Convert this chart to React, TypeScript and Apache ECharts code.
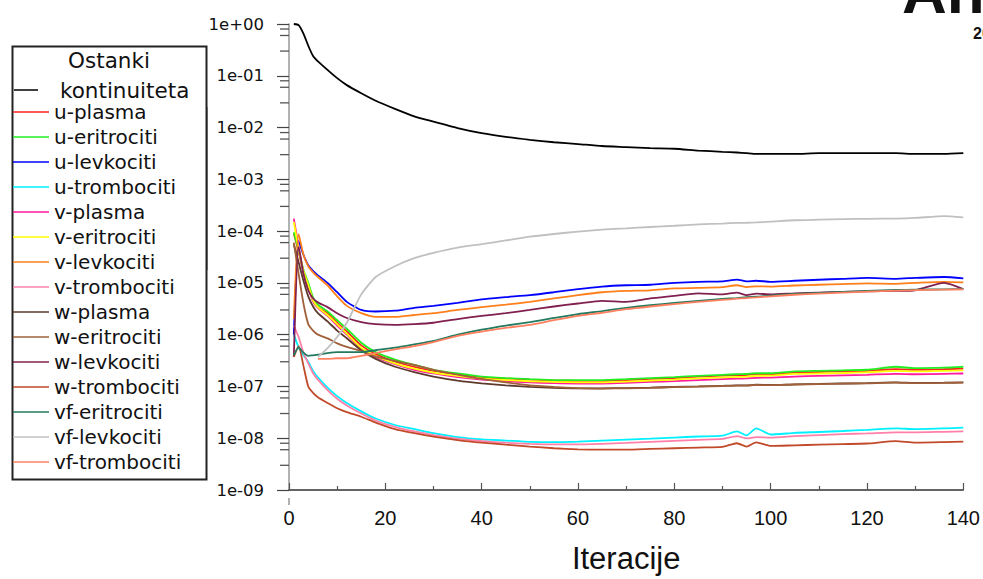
import React, { useEffect, useRef } from "react";
import * as echarts from "echarts";

const ITER = [1, 2, 3, 4, 5, 6, 8, 10, 12, 15, 18, 22, 26, 30, 35, 40, 45, 50, 55, 60, 65, 70, 75, 80, 85, 90, 93, 95, 97, 100, 105, 110, 115, 120, 126, 130, 136, 140];

const KONT = [1.0, 0.95, 0.65, 0.38, 0.24, 0.19, 0.13, 0.09, 0.066, 0.046, 0.033, 0.023, 0.0165, 0.013, 0.0098, 0.0078, 0.0066, 0.0058, 0.0052, 0.0048, 0.0044, 0.0042, 0.004, 0.0039, 0.0036, 0.0034, 0.0033, 0.0032, 0.0031, 0.0031, 0.0031, 0.0032, 0.0032, 0.0032, 0.0032, 0.0031, 0.0031, 0.0032];
const U_PLASMA = [9e-5, 4e-5, 1.6e-5, 9e-6, 4.5e-6, 3.4e-6, 2.6e-6, 1.7e-6, 1.15e-6, 6.2e-7, 4.2e-7, 3e-7, 2.4e-7, 2e-7, 1.7e-7, 1.5e-7, 1.42e-7, 1.35e-7, 1.3e-7, 1.28e-7, 1.28e-7, 1.32e-7, 1.4e-7, 1.45e-7, 1.55e-7, 1.62e-7, 1.65e-7, 1.66e-7, 1.75e-7, 1.72e-7, 1.85e-7, 1.9e-7, 1.95e-7, 2.0e-7, 2.15e-7, 2.1e-7, 2.15e-7, 2.2e-7];
const U_ERITRO = [9.5e-5, 4.2e-5, 1.8e-5, 1.0e-5, 5.2e-6, 3.8e-6, 2.8e-6, 1.9e-6, 1.3e-6, 7e-7, 4.6e-7, 3.3e-7, 2.6e-7, 2.1e-7, 1.78e-7, 1.55e-7, 1.45e-7, 1.38e-7, 1.33e-7, 1.32e-7, 1.33e-7, 1.38e-7, 1.45e-7, 1.52e-7, 1.6e-7, 1.68e-7, 1.72e-7, 1.74e-7, 1.8e-7, 1.8e-7, 1.95e-7, 2.0e-7, 2.05e-7, 2.1e-7, 2.4e-7, 2.25e-7, 2.3e-7, 2.4e-7];
const U_LEVKO = [1e-6, 6.4e-5, 3.5e-5, 2.2e-5, 1.7e-5, 1.4e-5, 1.0e-5, 6.6e-6, 4.3e-6, 3.0e-6, 2.8e-6, 2.9e-6, 3.3e-6, 3.6e-6, 4.1e-6, 4.8e-6, 5.3e-6, 5.8e-6, 6.6e-6, 7.6e-6, 8.5e-6, 9e-6, 9.2e-6, 1.0e-5, 1.05e-5, 1.07e-5, 1.16e-5, 1.07e-5, 1.1e-5, 1.05e-5, 1.1e-5, 1.15e-5, 1.2e-5, 1.25e-5, 1.2e-5, 1.25e-5, 1.3e-5, 1.22e-5];
const U_TROMBO = [1e-6, 5.7e-7, 4e-7, 3e-7, 2e-7, 1.5e-7, 9.5e-8, 6.5e-8, 4.8e-8, 3.3e-8, 2.4e-8, 1.8e-8, 1.5e-8, 1.25e-8, 1.05e-8, 9.5e-9, 9e-9, 8.5e-9, 8.4e-9, 8.6e-9, 9e-9, 9.4e-9, 9.8e-9, 1.03e-8, 1.08e-8, 1.12e-8, 1.35e-8, 1.14e-8, 1.55e-8, 1.18e-8, 1.27e-8, 1.32e-8, 1.38e-8, 1.45e-8, 1.55e-8, 1.5e-8, 1.55e-8, 1.6e-8];
const V_PLASMA = [1.75e-4, 5e-5, 1.6e-5, 8.5e-6, 4.4e-6, 3.3e-6, 2.3e-6, 1.5e-6, 1.0e-6, 5.4e-7, 3.7e-7, 2.7e-7, 2.1e-7, 1.78e-7, 1.52e-7, 1.36e-7, 1.27e-7, 1.2e-7, 1.16e-7, 1.14e-7, 1.14e-7, 1.17e-7, 1.22e-7, 1.27e-7, 1.33e-7, 1.38e-7, 1.41e-7, 1.43e-7, 1.47e-7, 1.48e-7, 1.55e-7, 1.6e-7, 1.64e-7, 1.68e-7, 1.75e-7, 1.72e-7, 1.75e-7, 1.78e-7];
const V_ERITRO = [1.5e-4, 4.5e-5, 1.7e-5, 9e-6, 4.6e-6, 3.4e-6, 2.4e-6, 1.6e-6, 1.05e-6, 5.6e-7, 3.9e-7, 2.8e-7, 2.2e-7, 1.85e-7, 1.6e-7, 1.42e-7, 1.33e-7, 1.26e-7, 1.22e-7, 1.2e-7, 1.2e-7, 1.24e-7, 1.3e-7, 1.36e-7, 1.43e-7, 1.5e-7, 1.53e-7, 1.55e-7, 1.6e-7, 1.62e-7, 1.75e-7, 1.78e-7, 1.82e-7, 1.88e-7, 2.0e-7, 1.95e-7, 2.0e-7, 2.05e-7];
const V_LEVKO = [2e-6, 8.7e-5, 3.5e-5, 2.1e-5, 1.6e-5, 1.3e-5, 9e-6, 5.5e-6, 3.6e-6, 2.6e-6, 2.2e-6, 2.2e-6, 2.4e-6, 2.6e-6, 3.0e-6, 3.4e-6, 3.8e-6, 4.3e-6, 5e-6, 5.8e-6, 6.6e-6, 7e-6, 7.2e-6, 7.8e-6, 8e-6, 8.3e-6, 9e-6, 8.3e-6, 8.6e-6, 8.5e-6, 8.9e-6, 9.2e-6, 9.5e-6, 9.8e-6, 9.6e-6, 1.0e-5, 1.05e-5, 1.02e-5];
const V_TROMBO = [1.5e-6, 9e-7, 4.5e-7, 2.8e-7, 1.8e-7, 1.35e-7, 8.5e-8, 5.8e-8, 4.3e-8, 3e-8, 2.2e-8, 1.65e-8, 1.35e-8, 1.15e-8, 9.8e-9, 8.8e-9, 8.2e-9, 7.8e-9, 7.6e-9, 7.6e-9, 7.8e-9, 8.1e-9, 8.5e-9, 8.9e-9, 9.3e-9, 9.7e-9, 1.1e-8, 9.9e-9, 1.05e-8, 1.03e-8, 1.1e-8, 1.15e-8, 1.2e-8, 1.24e-8, 1.3e-8, 1.3e-8, 1.33e-8, 1.35e-8];
const W_PLASMA = [5.5e-5, 2.5e-5, 1.1e-5, 5.5e-6, 3.5e-6, 2.6e-6, 1.8e-6, 1.2e-6, 8.5e-7, 5e-7, 3.4e-7, 2.4e-7, 1.9e-7, 1.55e-7, 1.3e-7, 1.15e-7, 1.05e-7, 9.8e-8, 9.4e-8, 9.2e-8, 9.2e-8, 9.3e-8, 9.5e-8, 9.8e-8, 1.0e-7, 1.03e-7, 1.05e-7, 1.05e-7, 1.08e-7, 1.07e-7, 1.1e-7, 1.12e-7, 1.14e-7, 1.16e-7, 1.2e-7, 1.17e-7, 1.18e-7, 1.2e-7];
const W_ERITRO = [6e-5, 1.5e-5, 4e-6, 1.6e-6, 1.2e-6, 1e-6, 8.5e-7, 6.8e-7, 5.8e-7, 4.8e-7, 3.8e-7, 3.1e-7, 2.6e-7, 2.1e-7, 1.7e-7, 1.4e-7, 1.2e-7, 1.05e-7, 9.8e-8, 9.3e-8, 9.1e-8, 9.2e-8, 9.4e-8, 9.7e-8, 9.9e-8, 1.02e-7, 1.04e-7, 1.04e-7, 1.07e-7, 1.06e-7, 1.09e-7, 1.11e-7, 1.13e-7, 1.15e-7, 1.19e-7, 1.16e-7, 1.17e-7, 1.19e-7];
const W_LEVKO = [3.7e-7, 5e-5, 1.5e-5, 7.2e-6, 5e-6, 4.2e-6, 3.4e-6, 2.6e-6, 2.1e-6, 1.75e-6, 1.6e-6, 1.55e-6, 1.6e-6, 1.7e-6, 2.0e-6, 2.3e-6, 2.6e-6, 3.0e-6, 3.5e-6, 4.0e-6, 4.5e-6, 4.3e-6, 5e-6, 5.6e-6, 6.3e-6, 6.0e-6, 6.5e-6, 5.8e-6, 6.2e-6, 6.0e-6, 6.3e-6, 6.5e-6, 6.7e-6, 6.9e-6, 7.0e-6, 7.2e-6, 1.0e-5, 7.6e-6];
const W_TROMBO = [3.7e-7, 6e-7, 2.5e-7, 1.0e-7, 7.5e-8, 6.2e-8, 4.8e-8, 3.8e-8, 3.2e-8, 2.6e-8, 2e-8, 1.5e-8, 1.25e-8, 1.07e-8, 9.2e-9, 8.2e-9, 7.5e-9, 6.9e-9, 6.4e-9, 6.1e-9, 6.0e-9, 6.0e-9, 6.2e-9, 6.4e-9, 6.6e-9, 6.8e-9, 8e-9, 6.9e-9, 8.3e-9, 7.1e-9, 7.3e-9, 7.5e-9, 7.7e-9, 7.9e-9, 8.8e-9, 8.2e-9, 8.4e-9, 8.6e-9];
const VF_ERITRO = [4e-7, 5.7e-7, 4.5e-7, 3.9e-7, 4.0e-7, 4.1e-7, 4.4e-7, 4.6e-7, 4.6e-7, 4.6e-7, 5e-7, 5.6e-7, 6.5e-7, 7.6e-7, 1.0e-6, 1.25e-6, 1.5e-6, 1.75e-6, 2.1e-6, 2.5e-6, 2.85e-6, 3.3e-6, 3.7e-6, 4.1e-6, 4.5e-6, 4.9e-6, 5.1e-6, 5.3e-6, 5.4e-6, 5.7e-6, 6.1e-6, 6.4e-6, 6.7e-6, 7.0e-6, 7.3e-6, 7.4e-6, 7.5e-6, 7.6e-6];
const VF_LEVKO = [null, null, null, null, null, 3.7e-7, 5.5e-7, 9e-7, 1.7e-6, 6e-6, 1.3e-5, 2.1e-5, 3.0e-5, 3.8e-5, 4.8e-5, 5.6e-5, 6.6e-5, 7.8e-5, 8.8e-5, 9.8e-5, 1.07e-4, 1.13e-4, 1.2e-4, 1.27e-4, 1.35e-4, 1.4e-4, 1.44e-4, 1.45e-4, 1.47e-4, 1.52e-4, 1.62e-4, 1.66e-4, 1.7e-4, 1.73e-4, 1.75e-4, 1.8e-4, 1.95e-4, 1.85e-4];
const VF_TROMBO = [null, null, null, null, null, 3.4e-7, 3.4e-7, 3.5e-7, 3.5e-7, 3.9e-7, 4.4e-7, 5.2e-7, 6.0e-7, 7.2e-7, 9.5e-7, 1.15e-6, 1.35e-6, 1.55e-6, 1.9e-6, 2.3e-6, 2.65e-6, 3.1e-6, 3.5e-6, 3.9e-6, 4.3e-6, 4.7e-6, 4.95e-6, 5.1e-6, 5.25e-6, 5.5e-6, 5.9e-6, 6.2e-6, 6.5e-6, 6.8e-6, 7.1e-6, 7.25e-6, 7.4e-6, 7.5e-6];

const SERIES_NAMES = ["kontinuiteta", "u-plasma", "u-eritrociti", "u-levkociti", "u-trombociti", "v-plasma", "v-eritrociti", "v-levkociti", "v-trombociti", "w-plasma", "w-eritrociti", "w-levkociti", "w-trombociti", "vf-eritrociti", "vf-levkociti", "vf-trombociti"];
const SERIES_VALUES = [KONT, U_PLASMA, U_ERITRO, U_LEVKO, U_TROMBO, V_PLASMA, V_ERITRO, V_LEVKO, V_TROMBO, W_PLASMA, W_ERITRO, W_LEVKO, W_TROMBO, VF_ERITRO, VF_LEVKO, VF_TROMBO];
const SERIES_COLORS = ["#000000", "#ff2020", "#22ee22", "#0000ff", "#00f0ff", "#ff1aa0", "#ffff00", "#ff7f1a", "#ff80a8", "#5e3a2c", "#a0603a", "#80204f", "#c04a2a", "#237a5e", "#c0c0c0", "#ff8060"];

const Y_MINOR_TICKS = [8e-1, 6e-1, 3e-1, 8e-2, 6e-2, 3e-2, 8e-3, 6e-3, 3e-3, 8e-4, 6e-4, 3e-4, 8e-5, 6e-5, 3e-5, 8e-6, 6e-6, 3e-6, 8e-7, 6e-7, 3e-7, 8e-8, 6e-8, 3e-8, 8e-9, 6e-9, 3e-9];

const FONT = "DejaVu Sans";

export default function App() {
  const ref = useRef<HTMLDivElement>(null);
  useEffect(() => {
    if (!ref.current) return;
    const chart = echarts.init(ref.current, null, { renderer: "svg" });
    const lineSeries = SERIES_NAMES.map((name, i) => ({
      name,
      type: "line",
      data: ITER.map((x, k) => [x, SERIES_VALUES[i][k]]),
      showSymbol: false,
      symbol: "none",
      connectNulls: false,
      smooth: 0.2,
      color: SERIES_COLORS[i],
      itemStyle: { color: SERIES_COLORS[i] },
      lineStyle: { color: SERIES_COLORS[i], width: 1.8 },
      z: 3,
    }));
    const minorTickSeries = {
      type: "scatter",
      name: "yMinorTicks",
      silent: true,
      clip: false,
      symbol: "rect",
      symbolSize: [9, 1.3],
      symbolOffset: [-4.5, 0],
      itemStyle: { color: "#555555", opacity: 1 },
      data: Y_MINOR_TICKS.map((v) => [0, v]),
      z: 10,
    };
    chart.setOption({
      animation: false,
      backgroundColor: "#ffffff",
      grid: { left: 289, right: 19, top: 24, bottom: 81, containLabel: false },
      xAxis: {
        type: "value",
        min: 0,
        max: 140,
        interval: 20,
        name: "Iteracije",
        nameLocation: "middle",
        nameGap: 53,
        nameTextStyle: { fontFamily: "Liberation Sans", fontSize: 31, color: "#111" },
        axisLine: { show: true, onZero: false, lineStyle: { color: "#333", width: 1.5 } },
        axisTick: { show: true, inside: true, length: 7, lineStyle: { color: "#555", width: 1.2 } },
        minorTick: { show: true, splitNumber: 2, length: 4, lineStyle: { color: "#555", width: 1.2 } },
        splitLine: { show: false },
        axisLabel: { fontFamily: "Liberation Sans", fontSize: 20, color: "#111", margin: 18 },
      },
      yAxis: {
        type: "log",
        logBase: 10,
        min: 1e-9,
        max: 1,
        axisLine: { show: true, onZero: false, lineStyle: { color: "#999", width: 1.5 } },
        axisTick: { show: true, inside: false, length: 12, lineStyle: { color: "#444", width: 1.2 } },
        splitLine: { show: false },
        axisLabel: {
          fontFamily: FONT,
          fontSize: 16.5,
          color: "#111",
          margin: 25,
          formatter: (v: number) => {
            const e = Math.round(Math.log10(v));
            return "1e" + (e >= 0 ? "+" : "-") + String(Math.abs(e)).padStart(2, "0");
          },
        },
      },
      legend: [
        {
          data: ["kontinuiteta"],
          orient: "vertical",
          left: 14,
          top: 79,
          padding: 0,
          icon: "rect",
          itemWidth: 24,
          itemHeight: 1.5,
          itemGap: 5,
          selectedMode: false,
          textStyle: { fontFamily: FONT, fontSize: 21.5, color: "#111", padding: [0, 0, 0, 17] },
        },
        {
          data: SERIES_NAMES.slice(1),
          orient: "vertical",
          left: 13,
          top: 102,
          padding: 0,
          icon: "rect",
          itemWidth: 36,
          itemHeight: 1.5,
          itemGap: 5,
          selectedMode: false,
          textStyle: { fontFamily: FONT, fontSize: 20, lineHeight: 20, color: "#111" },
        },
      ],
      graphic: [
        { type: "rect", left: 10, top: 44, shape: { width: 194, height: 433 }, style: { fill: "none", stroke: "#222", lineWidth: 2 }, z: 1 },
        { type: "line", shape: { x1: 207, y1: 107, x2: 207, y2: 270 }, style: { stroke: "#444", lineWidth: 1 } },
        { type: "line", shape: { x1: 289, y1: 498, x2: 289, y2: 505 }, style: { stroke: "#999", lineWidth: 1.5 } },
        { type: "text", x: 109, y: 60, style: { text: "Ostanki", fontFamily: FONT, fontSize: 21.5, fill: "#111", align: "center", verticalAlign: "middle" } },
        { type: "text", x: 902, y: 22, style: { text: "Ansys", fontFamily: "Liberation Sans", fontWeight: "bold", fontSize: 62, fill: "#111", align: "left", verticalAlign: "bottom" } },
        { type: "text", x: 973, y: 33, style: { text: "2019", fontFamily: "Liberation Sans", fontWeight: "bold", fontSize: 16, fill: "#111", align: "left", verticalAlign: "middle" } },
      ],
      series: [...lineSeries, minorTickSeries],
    });
    return () => chart.dispose();
  }, []);
  return <div ref={ref} style={{ position: "fixed", left: 0, top: 0, width: 983, height: 579 }} />;
}
